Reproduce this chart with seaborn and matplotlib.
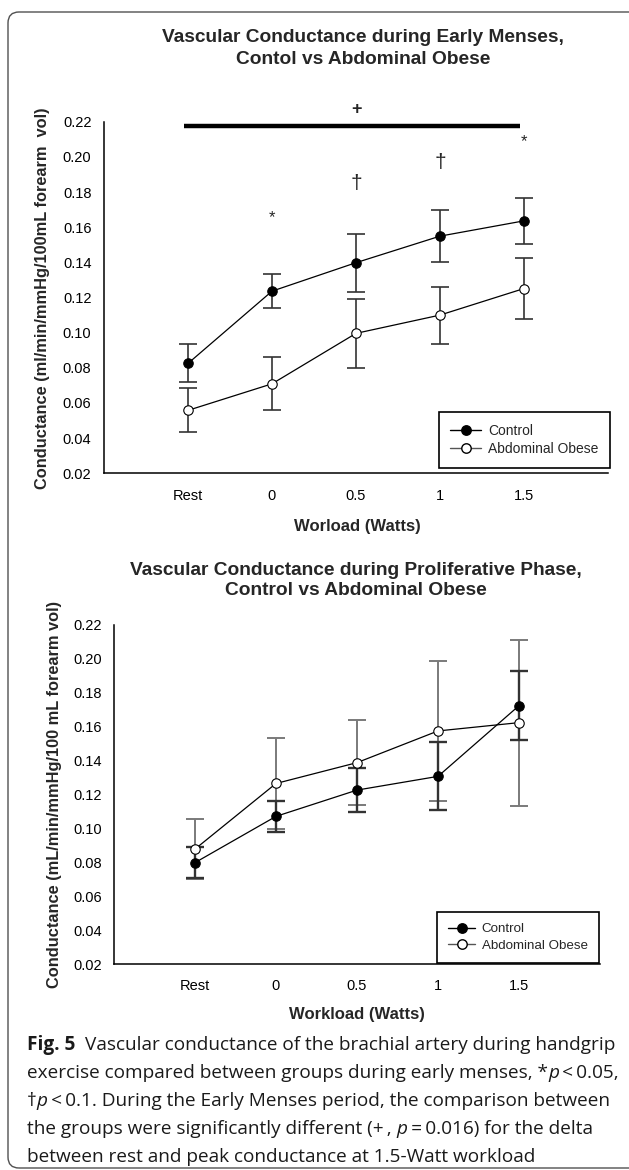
import numpy as np
import pandas as pd
import matplotlib
matplotlib.use("Agg")
import matplotlib.pyplot as plt
import seaborn as sns
from matplotlib.lines import Line2D
from matplotlib.patches import FancyBboxPatch
from matplotlib.transforms import IdentityTransform

# ---------------- data ----------------
workloads = ["Rest", "0", "0.5", "1", "1.5"]

em_control = [0.0825, 0.1236, 0.1398, 0.1549, 0.1636]
em_control_err = [0.0108, 0.0095, 0.0165, 0.0148, 0.0130]
em_obese = [0.0558, 0.0709, 0.0996, 0.1100, 0.1251]
em_obese_err = [0.0125, 0.0150, 0.0195, 0.0162, 0.0172]

pp_control = [0.0798, 0.1071, 0.1226, 0.1307, 0.1724]
pp_control_err = [0.0090, 0.0090, 0.0130, 0.0200, 0.0203]
pp_obese = [0.0878, 0.1265, 0.1388, 0.1575, 0.1624]
pp_obese_err = [0.0176, 0.0270, 0.0250, 0.0415, 0.0490]

sig_marks = ["", "*", "\u2020", "\u2020", "*"]
sig_y = [None, 0.1657, 0.1848, 0.1970, 0.2086]

yticks = [0.02, 0.04, 0.06, 0.08, 0.10, 0.12, 0.14, 0.16, 0.18, 0.20, 0.22]
ytick_labels = ["0.02", "0.04", "0.06", "0.08", "0.10", "0.12", "0.14",
                "0.16", "0.18", "0.20", "0.22"]

# ---------------- figure ----------------
sns.set_theme(style="white")
plt.rcParams["font.family"] = ["Liberation Sans", "DejaVu Sans"]

W, H = 629, 1170
fig = plt.figure(figsize=(W / 100, H / 100), dpi=100)
fig.patch.set_facecolor("white")


def rect(l, r, t, b):
    return [l / W, 1 - b / H, (r - l) / W, (b - t) / H]


def fx(x):
    return x / W


def fy(y):
    return 1 - y / H


ax1 = fig.add_axes(rect(104, 608, 121.7, 473.3))
ax2 = fig.add_axes(rect(114, 600, 625, 964))

MS = 6.8


def panel(ax, ctrl, cerr, obes, oerr, ecol_c, ecol_o, elw_c, elw_o):
    pos = np.arange(len(workloads))
    df_c = pd.DataFrame({"pos": pos, "val": ctrl})
    df_o = pd.DataFrame({"pos": pos, "val": obes})
    ax.errorbar(df_o["pos"], df_o["val"], yerr=oerr, fmt="none", ecolor=ecol_o,
                elinewidth=elw_o, capsize=6.5, capthick=elw_o, zorder=2)
    ax.errorbar(df_c["pos"], df_c["val"], yerr=cerr, fmt="none", ecolor=ecol_c,
                elinewidth=elw_c, capsize=6.5, capthick=elw_c, zorder=2)
    sns.lineplot(data=df_c, x="pos", y="val", ax=ax, color="black", lw=0.9,
                 marker="o", markersize=MS, markerfacecolor="black",
                 markeredgecolor="black", markeredgewidth=0.8, errorbar=None,
                 zorder=3)
    sns.lineplot(data=df_o, x="pos", y="val", ax=ax, color="black", lw=0.9,
                 marker="o", markersize=MS, markerfacecolor="white",
                 markeredgecolor="black", markeredgewidth=0.8, errorbar=None,
                 zorder=4)
    ax.set_xlim(-1, 5)
    ax.set_ylim(0.02, 0.22)
    ax.set_xticks(pos)
    ax.set_xticklabels(workloads)
    ax.set_yticks(yticks)
    ax.set_yticklabels(ytick_labels)
    ax.set_xlabel("")
    ax.set_ylabel("")
    for s in ["top", "right"]:
        ax.spines[s].set_visible(False)
    for s in ["left", "bottom"]:
        ax.spines[s].set_color("black")
        ax.spines[s].set_linewidth(1.1)
    ax.tick_params(axis="both", direction="out", length=4.5, width=1.0,
                   color="black", labelsize=10.5, labelcolor="black")
    ax.tick_params(axis="x", pad=6.5)
    ax.tick_params(axis="y", pad=4.5)
    ax.set_facecolor("white")
    ax.grid(False)


panel(ax1, em_control, em_control_err, em_obese, em_obese_err,
      "#333333", "#333333", 1.2, 1.2)
panel(ax2, pp_control, pp_control_err, pp_obese, pp_obese_err,
      "#333333", "#7a7a7a", 1.7, 1.4)

# significance annotations on top panel
ax1.plot([-0.05, 3.95], [0.2175, 0.2175], color="black", lw=3.2,
         solid_capstyle="butt", clip_on=False)
ax1.text(2.0, 0.2268, "+", ha="center", va="center", fontsize=13,
         fontweight="bold", clip_on=False)
for i, (m, yv) in enumerate(zip(sig_marks, sig_y)):
    if m:
        fs = 15 if m == "\u2020" else 12
        ax1.text(i, yv, m, ha="center", va="center", fontsize=fs, clip_on=False)


# legends
def add_legend(ax, right_px, bottom_px, fs, hl):
    handles = [
        Line2D([], [], color="black", lw=1.0, marker="o", markersize=MS,
               markerfacecolor="black", markeredgecolor="black"),
        Line2D([], [], color="#555555", lw=1.0, marker="o", markersize=MS,
               markerfacecolor="white", markeredgecolor="black"),
    ]
    leg = ax.legend(handles, ["Control", "Abdominal Obese"], loc="lower right",
                    bbox_to_anchor=(fx(right_px), fy(bottom_px)),
                    bbox_transform=fig.transFigure, borderaxespad=0,
                    frameon=True, fancybox=False, fontsize=fs,
                    borderpad=0.85, labelspacing=0.3, handlelength=hl,
                    handletextpad=0.5)
    fr = leg.get_frame()
    fr.set_edgecolor("black")
    fr.set_linewidth(1.2)
    fr.set_facecolor("white")
    fr.set_alpha(1)
    return leg


add_legend(ax1, 610, 468, 10, 2.2)
add_legend(ax2, 599, 963, 9.6, 2.0)

# titles and axis labels
fig.text(fx(363), fy(48.5), "Vascular Conductance during Early Menses,\nContol vs Abdominal Obese",
         ha="center", va="center", fontsize=13.8, fontweight="bold",
         linespacing=1.33)
fig.text(fx(356), fy(580.5), "Vascular Conductance during Proliferative Phase,\nControl vs Abdominal Obese",
         ha="center", va="center", fontsize=13.8, fontweight="bold",
         linespacing=1.2)
fig.text(fx(43), fy(298), "Conductance (ml/min/mmHg/100mL forearm  vol)",
         rotation=90, ha="center", va="center", fontsize=11.8, fontweight="bold")
fig.text(fx(55), fy(794), "Conductance (mL/min/mmHg/100 mL forearm vol)",
         rotation=90, ha="center", va="center", fontsize=11.8, fontweight="bold")
fig.text(fx(357), fy(526), "Worload (Watts)", ha="center", va="center",
         fontsize=12, fontweight="bold")
fig.text(fx(357), fy(1014), "Workload (Watts)", ha="center", va="center",
         fontsize=12, fontweight="bold")

# frame around the figure (right side lies beyond the image edge)
frame = FancyBboxPatch((8, 2), 650 - 8, 1158 - 2,
                       boxstyle="round,pad=0,rounding_size=11",
                       transform=IdentityTransform(), facecolor="none",
                       edgecolor="#505050", lw=1.0)
fig.add_artist(frame)

# caption
cap_font = ["Open Sans", "DejaVu Sans"]
renderer = fig.canvas.get_renderer()


def text_width(s, size, **kw):
    t = fig.text(0, 0, s, fontsize=size, family=cap_font, **kw)
    w = t.get_window_extent(renderer).width
    t.remove()
    return w


caption_lines = [
    [("Fig. 5", {"fontweight": "bold"}), ("  Vascular conductance of the brachial artery during handgrip", {})],
    [("exercise compared between groups during early menses, *", {}), ("p", {"fontstyle": "italic"}), ("\u2009<\u20090.05,", {})],
    [("\u2020", {}), ("p", {"fontstyle": "italic"}), ("\u2009<\u20090.1. During the Early Menses period, the comparison between", {})],
    [("the groups were significantly different (+\u2009, ", {}), ("p", {"fontstyle": "italic"}), ("\u2009=\u20090.016) for the delta", {})],
    [("between rest and peak conductance at 1.5-Watt workload", {})],
]

trial = 12.0
target_w = 590.0


def line_width(segs, size):
    total = 0.0
    sp_ = text_width("x x", size) - text_width("xx", size)
    for txt, kw in segs:
        lead = len(txt) - len(txt.lstrip(" "))
        trail = len(txt) - len(txt.rstrip(" "))
        core = txt.strip(" ")
        total += (lead + trail) * sp_
        if core:
            total += text_width(core, size, **kw)
    return total


size = trial * target_w / line_width(caption_lines[0], trial)
sp = text_width("x x", size) - text_width("xx", size)
baselines = [1050, 1078, 1106, 1134, 1162]
x_start = 27
for segs, yb in zip(caption_lines, baselines):
    x = x_start
    for txt, kw in segs:
        lead = len(txt) - len(txt.lstrip(" "))
        trail = len(txt) - len(txt.rstrip(" "))
        core = txt.strip(" ")
        x += lead * sp
        if core:
            t = fig.text(fx(x), fy(yb), core, fontsize=size, family=cap_font,
                         ha="left", va="baseline", color="#1a1a1a", **kw)
            x += t.get_window_extent(renderer).width
        x += trail * sp

fig.savefig("out.png", dpi=100, facecolor="white")
